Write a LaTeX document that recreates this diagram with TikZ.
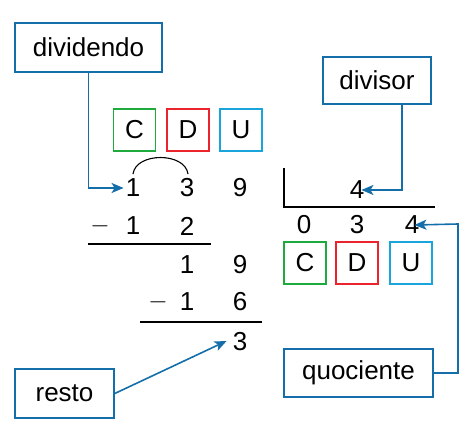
\documentclass[tikz,border=0pt]{standalone}
\usepackage{fontspec}
\setmainfont{Liberation Sans}
\usetikzlibrary{arrows.meta}
\definecolor{bblue}{RGB}{20,110,170}
\definecolor{cgreen}{RGB}{30,170,60}
\definecolor{dred}{RGB}{235,35,45}
\definecolor{ucyan}{RGB}{25,165,220}
\begin{document}
\begin{tikzpicture}[x=1pt,y=-1pt,
  lab/.style={draw=bblue,line width=1.6pt,inner sep=0pt,font=\fontsize{26}{28}\selectfont},
  dig/.style={inner sep=0pt,font=\fontsize{26}{28}\selectfont},
  place/.style={line width=1.5pt,inner sep=0pt,minimum width=42pt,minimum height=42pt,font=\fontsize{26}{28}\selectfont},
  conn/.style={draw=bblue,line width=1.6pt,-{Stealth[length=12pt,width=10pt,inset=3pt]}},
  rule/.style={line width=1.5pt}]
\useasboundingbox (0,0) rectangle (467,431);
% labels
\node[lab,minimum width=147pt,minimum height=49pt] (dvd) at (88.5,47.5) {dividendo};
\node[lab,minimum width=108pt,minimum height=47pt] (dvs) at (377,80.5) {divisor};
\node[lab,minimum width=99pt,minimum height=49pt] (rst) at (64.5,393.5) {resto};
\node[lab,minimum width=149pt,minimum height=48pt] (quo) at (358.5,373) {quociente};
% top place-value boxes
\node[place,draw=cgreen] (c1) at (134.5,130) {C};
\node[place,draw=dred] (d1) at (188,130) {D};
\node[place,draw=ucyan] (u1) at (241,130) {U};
% bottom place-value boxes
\node[place,draw=cgreen] (c2) at (305,263) {C};
\node[place,draw=dred] (d2) at (357,263) {D};
\node[place,draw=ucyan] (u2) at (411,263) {U};
% dividend digits
\node[dig] (a1) at (133,188) {1};
\node[dig] (a3) at (187,188) {3};
\node[dig] (a9) at (240,188) {9};
% first subtraction
\node[dig] (m1) at (100,226) {$-$};
\node[dig] (b1) at (133,226) {1};
\node[dig] (b2) at (187,226) {2};
\coordinate (r1a) at (88,244);
\coordinate (r1b) at (211,244);
\draw[rule] (r1a) -- (r1b);
% partial remainder
\node[dig] (e1) at (187,265) {1};
\node[dig] (e9) at (240,265) {9};
\node[dig] (m2) at (158,302) {$-$};
\node[dig] (f1) at (187,302) {1};
\node[dig] (f6) at (240,302) {6};
\coordinate (r2a) at (140,322);
\coordinate (r2b) at (262,322);
\draw[rule] (r2a) -- (r2b);
\node[dig] (g3) at (240,342) {3};
% division bracket
\coordinate (k1) at (284,168);
\coordinate (k2) at (284,207);
\coordinate (k3) at (435,207);
\draw[rule] (k1) -- (k2) -- (k3);
\node[dig] (v4) at (357,190) {4};
\node[dig] (q0) at (304,225) {0};
\node[dig] (q3) at (357,225) {3};
\node[dig] (q4) at (412,225) {4};
% arc over 1 3
\coordinate (arcA) at (133,174);
\coordinate (arcB) at (188,174);
\draw[line width=1.1pt] (arcA) .. controls (136,152) and (185,152) .. (arcB);
% connectors
\draw[conn] (dvd.south) |- ([xshift=-2pt]a1.west);
\draw[conn] (dvs.south -| 402,0) |- ([xshift=-3pt]v4.east);
\draw[conn] (rst.east) -- ([xshift=-6pt,yshift=1pt]g3.west);
\draw[conn] (quo.east) -| (458,224) -- ([xshift=-5pt]q4.east);
\end{tikzpicture}
\end{document}
